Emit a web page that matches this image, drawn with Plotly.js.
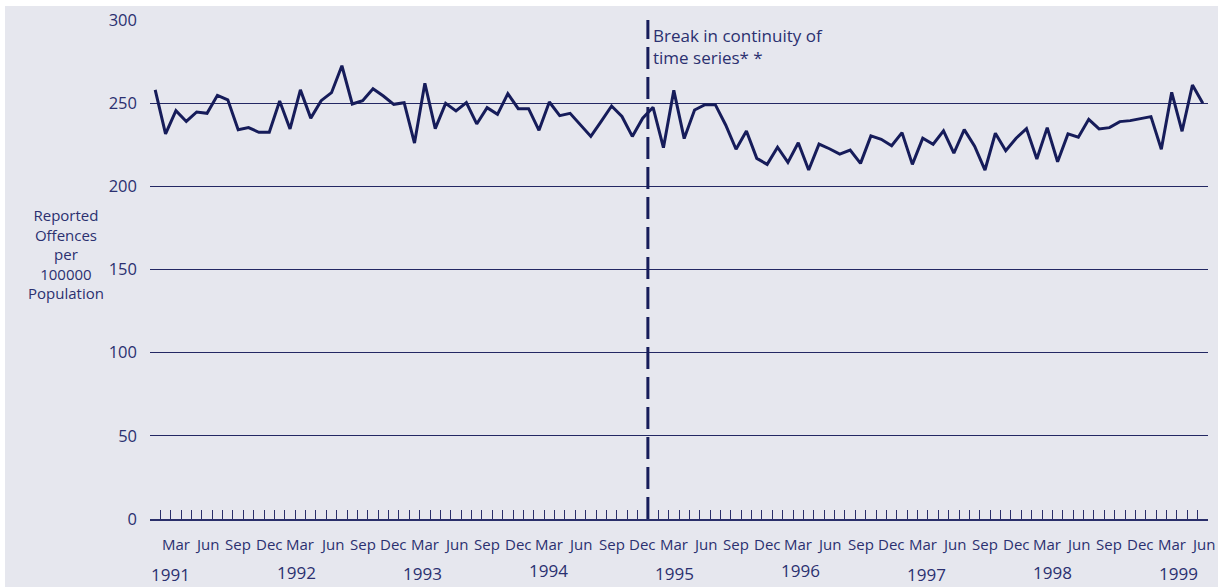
<!DOCTYPE html>
<html>
<head>
<meta charset="utf-8">
<script src="https://cdn.plot.ly/plotly-3.0.1.min.js"></script>
<style>
html,body{margin:0;padding:0;background:#ffffff;}
#chart{position:absolute;left:5px;top:6px;width:1213px;height:581px;}
</style>
</head>
<body>
<div id="chart"></div>
<script>
// Monthly reported offences per 100000 population, Jan 1991 - Jun 1999
const years = [1991, 1992, 1993, 1994, 1995, 1996, 1997, 1998, 1999];
const monthNames = ["Jan","Feb","Mar","Apr","May","Jun","Jul","Aug","Sep","Oct","Nov","Dec"];
const labelledMonths = ["Mar","Jun","Sep","Dec"];
const values1991 = [258, 231.5, 245.5, 239, 244.7, 243.9, 254.7, 252, 234, 235.3, 232.5, 232.5];
const values1992 = [251.3, 234.5, 258, 241, 251.5, 256.3, 272.5, 249.5, 251.5, 258.7, 254.3, 249.3];
const values1993 = [250.3, 226, 262, 234.7, 249.9, 245.3, 250.3, 237.5, 247.3, 243.3, 255.7, 246.7];
const values1994 = [246.7, 233.7, 250.7, 242.5, 243.9, 236.9, 230, 239, 248.3, 242, 230, 241];
const values1995 = [247.5, 223.2, 257.7, 228.7, 245.9, 249.1, 249.1, 236.9, 222.3, 233.3, 216.8, 213.2];
const values1996 = [223.5, 214.4, 226.2, 209.8, 225.4, 222.6, 219.4, 221.8, 213.8, 230.3, 228.3, 224.4];
const values1997 = [232.3, 213.2, 228.9, 225.3, 233.3, 219.9, 234.1, 224.2, 209.8, 231.9, 221.4, 228.9];
const values1998 = [234.7, 216.4, 235.3, 214.8, 231.5, 229.5, 240.3, 234.5, 235.3, 238.9, 239.5, 240.7];
const values1999 = [241.9, 222.3, 256.5, 233.1, 260.9, 249.9];
const yTicks = [0, 50, 100, 150, 200, 250, 300];
const breakAfterMonth = "Dec 1994";
const breakText = "Break in continuity of<br>time series* *";
const yTitle = "Reported<br>Offences<br>per<br>100000<br>Population";

const allValues = [].concat(values1991, values1992, values1993, values1994, values1995,
  values1996, values1997, values1998, values1999);
const categories = allValues.map((v, i) => monthNames[i % 12] + " " + years[Math.floor(i / 12)]);
const xIdx = categories.map((c, i) => i);

const navy = "#161c5a";
const textCol = "#2b3070";
const fontFam = "'Open Sans', 'Liberation Sans', sans-serif";

const annotations = [];
// month labels
categories.forEach((c, i) => {
  const m = c.split(" ")[0];
  if (labelledMonths.includes(m)) {
    annotations.push({x: i, y: 0, xref: "x", yref: "paper", text: m, showarrow: false,
      yanchor: "middle", xanchor: "center", yshift: -25,
      font: {family: fontFam, size: 15, color: textCol}});
  }
});
// year labels
const yearShift = [-55, -53, -54, -51, -54, -51, -55, -53, -54];
years.forEach((yr, k) => {
  annotations.push({x: k * 12 + 1.5 + k * 0.15, y: 0, xref: "x", yref: "paper", text: String(yr),
    showarrow: false, yanchor: "middle", xanchor: "center", yshift: yearShift[k],
    font: {family: fontFam, size: 17, color: textCol}});
});
const breakX = categories.indexOf(breakAfterMonth) + 0.5;
annotations.push({x: breakX, y: 1, xref: "x", yref: "paper", text: breakText, align: "left",
  showarrow: false, xanchor: "left", yanchor: "top", xshift: 3, yshift: -2,
  font: {family: fontFam, size: 17, color: textCol}});
annotations.push({x: 0, y: 0.5, xref: "paper", yref: "paper", text: yTitle, align: "center",
  showarrow: false, xanchor: "center", yanchor: "middle", xshift: -84, yshift: 16,
  font: {family: fontFam, size: 15, color: textCol}});

const trace = {
  x: xIdx, y: allValues, type: "scatter", mode: "lines",
  text: categories, hoverinfo: "text+y",
  line: {color: navy, width: 3}
};

const layout = {
  width: 1213, height: 581,
  paper_bgcolor: "#e6e7ee", plot_bgcolor: "#e6e7ee",
  margin: {l: 145, r: 10, t: 14, b: 68},
  showlegend: false,
  xaxis: {
    range: [-0.5, 101.5], tick0: -0.5, dtick: 1, ticks: "inside", ticklen: 9,
    tickcolor: "#2a2f6a", tickwidth: 1, showticklabels: false, showgrid: false,
    zeroline: false, showline: true, linecolor: "#2a2f6a", linewidth: 1.5, fixedrange: true
  },
  yaxis: {
    range: [0, 300], tickvals: yTicks, showgrid: true, gridcolor: "#232863", gridwidth: 1,
    zeroline: true, zerolinecolor: "#2a2f6a", zerolinewidth: 1.5,
    showline: false, ticks: "", ticklabelstandoff: 12,
    tickfont: {family: fontFam, size: 16.5, color: textCol}, fixedrange: true
  },
  shapes: [{type: "line", xref: "x", yref: "paper", x0: breakX, x1: breakX, y0: 0, y1: 1,
    line: {color: navy, width: 3, dash: "22px,8px"}}],
  annotations: annotations
};

Plotly.newPlot("chart", [trace], layout, {displayModeBar: false, staticPlot: true});
</script>
</body>
</html>
